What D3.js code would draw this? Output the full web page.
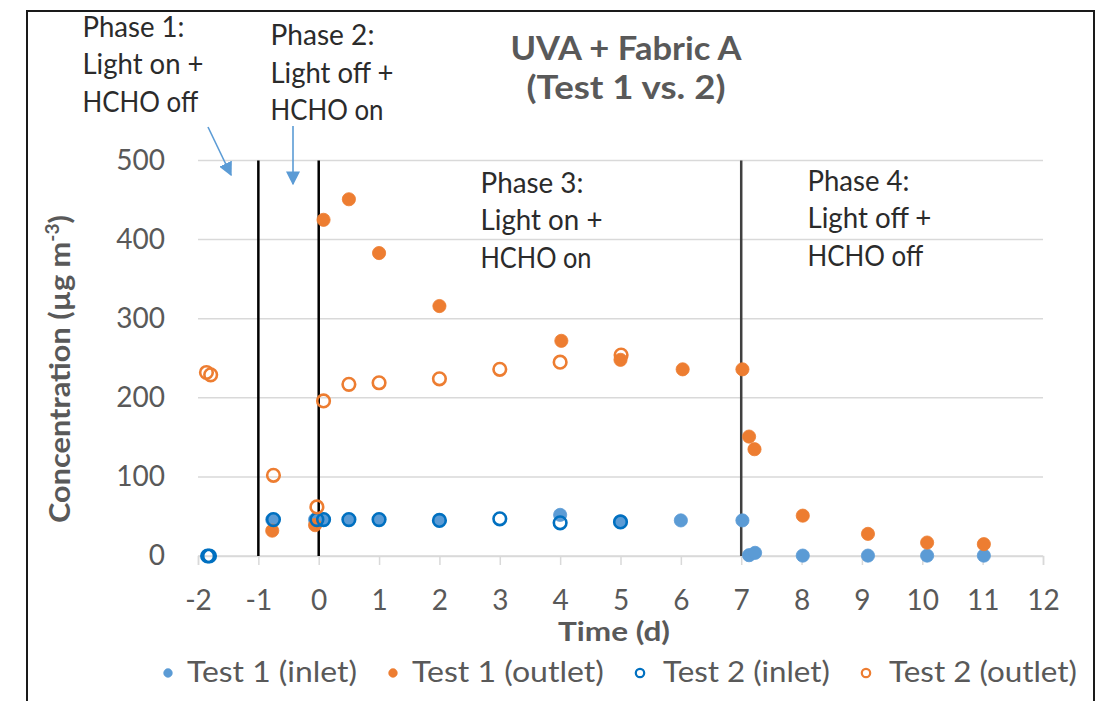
<!DOCTYPE html>
<html>
<head>
<meta charset="utf-8">
<script src="https://cdn.jsdelivr.net/npm/d3@7"></script>
<style>
  html, body { margin: 0; padding: 0; background: #fff; }
  svg { display: block; }
  text { font-family: Lato, "Open Sans", sans-serif; }
</style>
</head>
<body>
<svg id="chart" width="1106" height="701"></svg>
<script>
// ---------------- DATA ----------------
const seriesNames = ["Test 1 (inlet)", "Test 1 (outlet)", "Test 2 (inlet)", "Test 2 (outlet)"];

const test1InletX  = [-0.77, -0.06, 0.08, 0.5, 1, 2, 4, 5, 6, 7.02, 7.13, 7.23, 8.02, 9.1, 10.08, 11.02];
const test1InletY  = [46, 46, 46, 46, 46, 45, 52, 44, 45, 45, 1, 4, 0.5, 0.5, 0.5, 0.5];

const test1OutletX = [-0.77, -0.06, 0.08, 0.5, 1, 2, 4.02, 5, 6.03, 7.02, 7.13, 7.22, 8.02, 9.1, 10.08, 11.02];
const test1OutletY = [32, 39, 425, 451, 383, 316, 272, 248, 236, 236, 151, 135, 51, 28, 17, 15];

const test2InletX  = [-1.84, -1.81, -0.75, -0.03, 0.08, 0.5, 1, 2, 3, 4, 5];
const test2InletY  = [0, 0, 46, 46, 46, 46, 46, 45, 47, 42, 43];

const test2OutletX = [-1.86, -1.79, -0.75, -0.03, 0.08, 0.5, 1, 2, 3, 4, 5.01];
const test2OutletY = [232, 229, 102, 62, 196, 217, 219, 224, 236, 245, 254];

const xTicks = [-2, -1, 0, 1, 2, 3, 4, 5, 6, 7, 8, 9, 10, 11, 12];
const yTicks = [0, 100, 200, 300, 400, 500];
const phaseLinesX = [-1, 0, 7];

const titleLines = ["UVA + Fabric A", "(Test 1 vs. 2)"];
const phaseLabels = [
  ["Phase 1:", "Light on +", "HCHO off"],
  ["Phase 2:", "Light off +", "HCHO on"],
  ["Phase 3:", "Light on +", "HCHO on"],
  ["Phase 4:", "Light off +", "HCHO off"]
];

// ---------------- STYLE / LAYOUT ----------------
const colors = { t1in: "#5b9bd5", t1out: "#ed7d31", t2in: "#0070c0", t2out: "#ed7d31" };
const gray = "#595959";
const svg = d3.select("#chart");

const x = d3.scaleLinear().domain([-2, 12]).range([198, 1043]);
const y = d3.scaleLinear().domain([0, 500]).range([556, 160.5]);

// fit helper: scale text horizontally to target width
function fit(textSel, target) {
  const node = textSel.node();
  const w = node.getBBox().width;
  if (w > 0) {
    const s = target / w;
    const ax = +textSel.attr("x") || 0;
    textSel.attr("transform", `translate(${ax},0) scale(${s},1) translate(${-ax},0)`);
  }
  return textSel;
}

// border
svg.append("rect").attr("x", 27).attr("y", 11).attr("width", 1067).attr("height", 720)
  .attr("fill", "none").attr("stroke", "#1a1a1a").attr("stroke-width", 2);

// gridlines
svg.append("g").selectAll("line").data(yTicks).join("line")
  .attr("x1", x(-2)).attr("x2", x(12))
  .attr("y1", d => y(d)).attr("y2", d => y(d))
  .attr("stroke", "#d9d9d9").attr("stroke-width", 1.5);

// x axis
const xAxis = svg.append("g").attr("transform", `translate(0,${y(0)})`)
  .call(d3.axisBottom(x).tickValues(xTicks).tickSize(9).tickPadding(25).tickFormat(d => String(d)));
xAxis.select(".domain").attr("stroke", "#d9d9d9").attr("stroke-width", 1.5);
xAxis.selectAll(".tick line").attr("stroke", "#d9d9d9").attr("stroke-width", 1.5);
xAxis.selectAll("text").attr("fill", gray).attr("font-size", 28).attr("font-family", "Lato");

// y axis
const yAxis = svg.append("g").attr("transform", `translate(${x(-2)},0)`)
  .call(d3.axisLeft(y).tickValues(yTicks).tickSize(0).tickPadding(33));
yAxis.select(".domain").remove();
yAxis.selectAll("text").attr("fill", gray).attr("font-size", 28).attr("font-family", "Lato");

// phase lines
svg.append("g").selectAll("line").data(phaseLinesX).join("line")
  .attr("x1", d => x(d)).attr("x2", d => x(d))
  .attr("y1", y(500)).attr("y2", y(0))
  .attr("stroke", (d, i) => i === 2 ? "#404040" : "#000")
  .attr("stroke-width", 2.5);

// series
function pts(xs, ys) { return xs.map((v, i) => ({ x: v, y: ys[i] })); }
const series = [
  { data: pts(test1InletX, test1InletY), fill: colors.t1in, stroke: colors.t1in, open: false },
  { data: pts(test1OutletX, test1OutletY), fill: colors.t1out, stroke: colors.t1out, open: false },
  { data: pts(test2InletX, test2InletY), fill: "none", stroke: colors.t2in, open: true },
  { data: pts(test2OutletX, test2OutletY), fill: "none", stroke: colors.t2out, open: true }
];
series.forEach(s => {
  svg.append("g").selectAll("circle").data(s.data).join("circle")
    .attr("cx", d => x(d.x)).attr("cy", d => y(d.y))
    .attr("r", s.open ? 6.3 : 6.6)
    .attr("fill", s.fill)
    .attr("stroke", s.stroke)
    .attr("stroke-width", s.open ? 2.6 : 0.8);
});

// title
const titleBase = [60, 99];
const titleW = [232, 199];
titleLines.forEach((t, i) => {
  const tx = svg.append("text").attr("x", 626).attr("y", titleBase[i])
    .attr("text-anchor", "middle").attr("font-weight", "bold").attr("font-size", 32)
    .attr("fill", gray).text(t);
  fit(tx, titleW[i]);
});

// axis titles
const xt = svg.append("text").attr("x", 614).attr("y", 641).attr("text-anchor", "middle")
  .attr("font-weight", "bold").attr("font-size", 27).attr("fill", gray).text("Time (d)");
fit(xt, 112);

const yg = svg.append("g").attr("transform", "translate(70,369) rotate(-90)");
const yt = yg.append("text").attr("x", 0).attr("y", 0).attr("text-anchor", "middle")
  .attr("font-weight", "bold").attr("font-size", 29).attr("fill", gray);
yt.append("tspan").text("Concentration (µg m");
yt.append("tspan").attr("font-size", 18).attr("dy", -11).text("-3");
yt.append("tspan").attr("dy", 11).text(")");
fit(yt, 308);

// phase annotations
const annLayout = [
  { x: 82.5, y: [37, 74.5, 112], w: [102, 121, 116] },
  { x: 270.5, y: [45, 83, 120], w: [104, 123, 113] },
  { x: 480.5, y: [193, 230.5, 268], w: [103, 122, 111] },
  { x: 807.5, y: [191, 228.5, 266], w: [102, 124, 116] }
];
phaseLabels.forEach((lines, k) => {
  lines.forEach((t, i) => {
    const tx = svg.append("text").attr("x", annLayout[k].x).attr("y", annLayout[k].y[i])
      .attr("font-size", 28).attr("fill", "#2b2b2b").text(t);
    fit(tx, annLayout[k].w[i]);
  });
});

// arrows
const defs = svg.append("defs");
defs.append("marker").attr("id", "arrowhead").attr("viewBox", "0 0 10 10")
  .attr("refX", 9).attr("refY", 5).attr("markerWidth", 14).attr("markerHeight", 14)
  .attr("markerUnits", "userSpaceOnUse").attr("orient", "auto")
  .append("path").attr("d", "M0,0 L10,5 L0,10 Z").attr("fill", "#5b9bd5");
const arrows = [
  { x1: 208, y1: 127, x2: 231, y2: 175 },
  { x1: 293, y1: 126, x2: 293, y2: 184 }
];
svg.append("g").selectAll("line").data(arrows).join("line")
  .attr("x1", d => d.x1).attr("y1", d => d.y1).attr("x2", d => d.x2).attr("y2", d => d.y2)
  .attr("stroke", "#5b9bd5").attr("stroke-width", 1.6).attr("marker-end", "url(#arrowhead)");

// legend
const legendTextW = [170, 192, 167, 188];
let lx = 168;
const ly = 673;
series.forEach((s, i) => {
  svg.append("circle").attr("cx", lx).attr("cy", ly)
    .attr("r", s.open ? 4.2 : 4.4)
    .attr("fill", s.open ? "none" : s.fill)
    .attr("stroke", s.stroke).attr("stroke-width", s.open ? 2.2 : 0.5);
  const tx0 = lx + (s.open ? 23 : 19);
  const tx = svg.append("text").attr("x", tx0).attr("y", 682)
    .attr("font-size", 28).attr("fill", gray).text(seriesNames[i]);
  fit(tx, legendTextW[i]);
  lx = tx0 + legendTextW[i] + 36;
});
</script>
</body>
</html>
